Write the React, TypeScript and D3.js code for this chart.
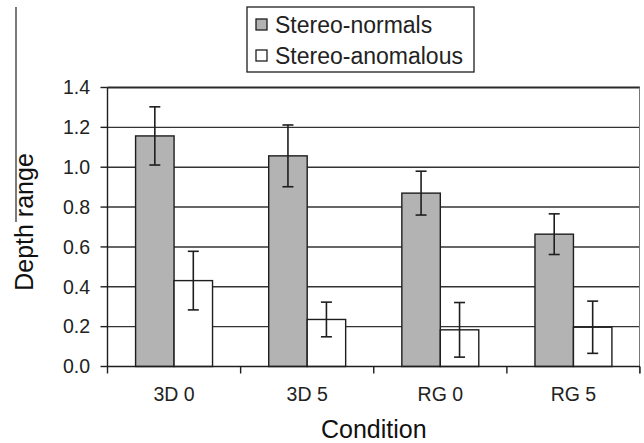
import React from "react";
import * as d3 from "d3";

const categories = ["3D 0", "3D 5", "RG 0", "RG 5"];
const seriesNames = ["Stereo-normals", "Stereo-anomalous"];
const normalsMean = [1.157, 1.057, 0.87, 0.664];
const normalsErr = [0.146, 0.155, 0.11, 0.102];
const anomalousMean = [0.431, 0.236, 0.184, 0.197];
const anomalousErr = [0.147, 0.087, 0.137, 0.131];
const yTicks = [0, 0.2, 0.4, 0.6, 0.8, 1.0, 1.2, 1.4];

const W = 644;
const H = 443;
const left = 107.5;
const right = 640;
const top = 87.5;
const bottom = 366.5;
const FONT = "'Liberation Sans', Arial, sans-serif";
const INK = "#1e1e1e";

export default function App() {
  const x = d3.scaleBand<string>().domain(categories).range([left, right]).paddingInner(0).paddingOuter(0);
  const y = d3.scaleLinear().domain([0, 1.4]).range([bottom, top]);
  const bw = x.bandwidth();
  const barW = bw * 0.289;
  const groupOff = (bw - 2 * barW) / 2;
  const series = [
    { name: seriesNames[0], mean: normalsMean, err: normalsErr, fill: "#b3b3b3" },
    { name: seriesNames[1], mean: anomalousMean, err: anomalousErr, fill: "#ffffff" },
  ];
  const cap = 5.5;

  return (
    <svg width={W} height={H} style={{ position: "absolute", left: 0, top: 0, background: "#fff" }} fontFamily={FONT}>
      <rect x={0} y={0} width={W} height={H} fill="#fff" />
      {/* left stray vertical line */}
      <line x1={16} x2={16} y1={7} y2={222} stroke="#333" strokeWidth={1.3} />

      {/* gridlines */}
      {yTicks.slice(1).map((t) => (
        <line key={"g" + t} x1={left} x2={right} y1={y(t)} y2={y(t)} stroke={t === 1.4 ? "#2a2a2a" : "#333"} strokeWidth={t === 1.4 ? 2 : 1.4} />
      ))}
      {/* right border */}
      <line x1={right - 0.5} x2={right - 0.5} y1={top} y2={bottom + 7} stroke="#777" strokeWidth={1} />

      {/* bars */}
      {series.map((s, si) =>
        categories.map((c, i) => {
          const bx = (x(c) as number) + groupOff + si * barW;
          return (
            <rect key={s.name + c} x={bx} y={y(s.mean[i])} width={barW} height={bottom - y(s.mean[i])} fill={s.fill} stroke={INK} strokeWidth={1.4} />
          );
        })
      )}
      {/* error bars */}
      {series.map((s, si) =>
        categories.map((c, i) => {
          const cx = (x(c) as number) + groupOff + si * barW + barW / 2;
          const hi = y(s.mean[i] + s.err[i]);
          const lo = y(s.mean[i] - s.err[i]);
          return (
            <g key={"e" + s.name + c} stroke={INK} strokeWidth={1.6}>
              <line x1={cx} x2={cx} y1={hi} y2={lo} />
              <line x1={cx - cap} x2={cx + cap} y1={hi} y2={hi} />
              <line x1={cx - cap} x2={cx + cap} y1={lo} y2={lo} />
            </g>
          );
        })
      )}

      {/* y axis */}
      <line x1={left} x2={left} y1={top} y2={bottom} stroke={INK} strokeWidth={1.4} />
      {yTicks.map((t) => (
        <g key={"yt" + t}>
          <line x1={left - 7} x2={left} y1={y(t)} y2={y(t)} stroke={INK} strokeWidth={1.4} />
          <text x={90} y={y(t)} dy="0.35em" textAnchor="end" fontSize={19.5} fill="#222">
            {d3.format(".1f")(t)}
          </text>
        </g>
      ))}
      {/* x axis */}
      <line x1={left} x2={right} y1={bottom} y2={bottom} stroke={INK} strokeWidth={1.4} />
      {[...categories.map((c) => x(c) as number), right].map((px, i) => (
        <line key={"xt" + i} x1={px} x2={px} y1={bottom} y2={bottom + 7} stroke={INK} strokeWidth={1.4} />
      ))}
      {categories.map((c) => (
        <text key={"xl" + c} x={(x(c) as number) + bw / 2} y={401} textAnchor="middle" fontSize={19.5} fill="#222">
          {c}
        </text>
      ))}

      {/* axis titles */}
      <text x={(left + right) / 2} y={438} textAnchor="middle" fontSize={25} fill="#111">
        Condition
      </text>
      <text transform={`translate(33,${222}) rotate(-90)`} textAnchor="middle" fontSize={25} fill="#111">
        Depth range
      </text>

      {/* legend */}
      <rect x={247} y={7} width={227} height={65} fill="#fff" stroke={INK} strokeWidth={1.3} />
      {series.map((s, i) => (
        <g key={"lg" + s.name}>
          <rect x={256} y={19 + i * 31} width={11} height={11} fill={s.fill} stroke={INK} strokeWidth={1.3} />
          <text x={275} y={24.5 + i * 31} dy="0.35em" fontSize={23} fill="#222">
            {s.name}
          </text>
        </g>
      ))}
    </svg>
  );
}
